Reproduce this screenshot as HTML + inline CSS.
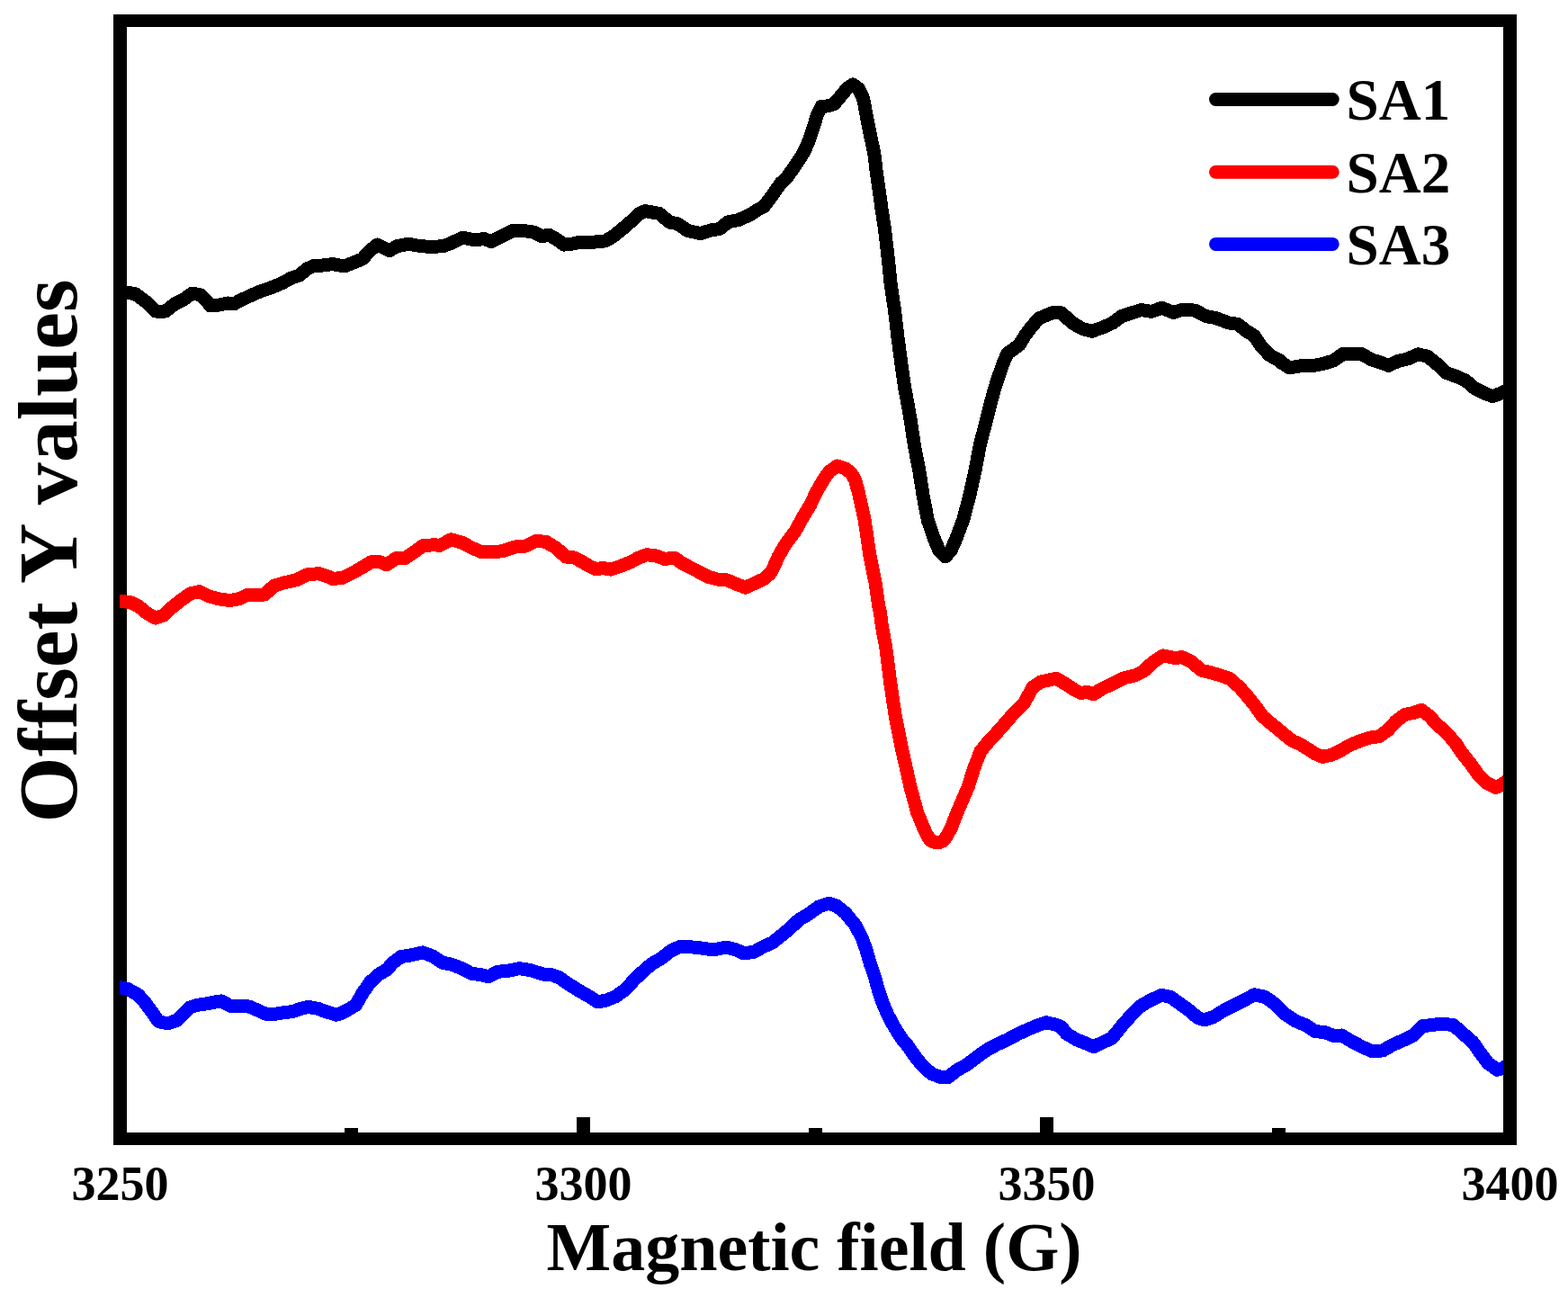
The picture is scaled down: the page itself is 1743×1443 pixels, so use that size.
<!DOCTYPE html>
<html><head><meta charset="utf-8"><title>Offset Y values vs Magnetic field</title>
<style>html,body{margin:0;padding:0;background:#fff;width:1743px;height:1443px;overflow:hidden}</style>
</head><body>
<svg width="1743" height="1443" viewBox="0 0 1743 1443" style="display:block">
<rect x="0" y="0" width="1743" height="1443" fill="#ffffff"/>
<g fill="#000000">
<rect x="126" y="16" width="15" height="1257"/>
<rect x="126" y="16" width="1560" height="14"/>
<rect x="126" y="1259" width="1560" height="14"/>
<rect x="641" y="1242" width="15" height="17"/>
<rect x="1156" y="1242" width="15" height="17"/>
<rect x="383" y="1254" width="15" height="5"/>
<rect x="899" y="1254" width="15" height="5"/>
<rect x="1414" y="1254" width="15" height="5"/>
</g>
<defs><clipPath id="pc"><rect x="133" y="0" width="1538" height="1443"/></clipPath></defs>
<g fill="none" stroke-width="15" stroke-linejoin="round" stroke-linecap="butt" clip-path="url(#pc)" shape-rendering="crispEdges">
<polyline stroke="#000000" points="126,325 133,325 141,325 151,327 163,336 173,346 184,346 194,338 204,333 214,326 223,328 230,335 234,340 244,339 253,337 260,338 267,334 280,328 289,324 301,320 313,315 324,309 333,306 341,299 350,295 359,295 367,294 370,293.6 382.9,296 392.9,292 402.9,287.9 411.4,278.6 419.3,272 427,275.7 432.9,278.6 441.4,273.7 454.3,271.1 462.9,272.9 478.6,274.6 492.9,273.6 501.4,270.3 514.3,264.3 527.1,266.6 538.6,265.7 546.4,268.6 555.7,263.6 570,256.4 581.4,256.4 592.9,258 602.9,262.9 610,261 618.6,266 627.1,272.1 638.6,270.7 644.3,269.1 658.6,269.3 672.9,267.9 681.4,262.9 692.9,253.6 702.9,245 710,237.9 717.1,234.6 724.3,235.9 732.9,237.4 744.3,247.1 752.9,248.6 764.3,256.4 778.6,259.6 790,256 800,254.5 809,247 821,244.5 834,238.6 843,232.8 849,229.9 858,217.9 868,203.5 875,197 883,185.5 891,173.7 896,164 900,154.3 904.3,141.4 908.6,127.1 912.9,118.6 920,117.9 927.1,115.7 934.3,107.1 941.4,98.6 948,94 954.3,98.6 958.6,107.1 960.3,112.9 962.9,127.1 967.1,148.6 971.7,170 974.3,191.4 977.4,212.9 980.3,234.3 983.6,255.7 987.4,288.6 990.3,317.1 994.6,345.7 997.9,374.3 1001.7,402.9 1005.7,431.4 1007.4,440 1012.3,467.7 1016.4,495.4 1021.8,523.2 1026.1,550.9 1031.4,578.6 1038.6,599.4 1044,612 1050.8,619 1057,612 1062.6,599.4 1070.5,578.6 1077.8,550.9 1084,523.2 1089.2,495.4 1096.3,467.7 1101.9,445.7 1105.8,431.4 1110.5,417.1 1115.5,402.9 1119.8,393 1125.7,388.9 1132.9,383.6 1140,372.1 1147.1,362.9 1154.3,354.3 1162.9,350.6 1171.4,347.2 1180,347.8 1191.4,358.6 1202.9,365.3 1213.6,368.3 1225.7,364 1237.1,358.9 1247.1,351.4 1257.1,348.1 1268.6,344.6 1280,346.4 1291.4,342.3 1304.3,347.4 1314.3,344.4 1328.6,345.1 1340,351.4 1351.4,353.6 1365.7,358.9 1375.7,360.3 1384.3,367.1 1394.3,373.6 1401.4,384.3 1411.4,395 1422.9,401 1425,403.6 1433.6,408.9 1446.4,406.7 1459.3,406.7 1472.1,404.1 1482.1,401 1493.6,393 1502.1,393 1513.6,393.7 1525,400 1536.4,403.6 1543.6,406.4 1553.6,401.7 1565,398.9 1576.4,393.9 1586.4,396 1596.4,403.9 1607.9,414.6 1619.3,418.6 1629.3,423.1 1639.3,431.7 1650.7,437.4 1659.3,440.7 1667.9,437.4 1678,432"/>
<polyline stroke="#ff0000" points="126,668.5 133,668.5 144.3,669.3 154.3,674.1 162.9,681.4 172.9,687.1 181.4,684.3 191.4,675 201.4,667.1 211.4,660 221.4,657.6 232.9,663.1 244.3,666 255.7,667.6 265.7,665.7 275.7,661.1 285.7,661.4 294.3,661 304.3,651.4 315.7,647.9 330,644.6 341.4,638.9 354.3,637.6 365.7,641.4 370,643.6 381.4,642.1 392.9,636.4 402.9,630.6 412.9,624.6 422.9,624.9 430,627.9 440,620.7 450,620.7 458.6,615 470,606.7 482.9,605.7 488.6,606.4 501.4,599.9 512.9,602.9 524.3,608.9 535.7,613.9 545.7,613.9 558.6,612.7 572.9,607.9 584.3,607.1 595.7,601.3 607.1,602.4 610,604.3 618.6,609.3 628.6,618.9 638.6,620 647.1,624.6 654.3,628.9 662.9,633 670,631.4 678.6,633.1 690,629.3 701.4,624.7 710,620 718.6,616.7 730,618.1 738.6,621.4 750,620.3 758.6,626.4 767.1,630.7 778.6,636.7 788.6,641.7 798.6,644.3 808.6,645 818.6,649.3 828.6,653.1 838.6,648.6 848.6,643.9 855.7,638 858.9,632.9 865.3,618.6 873.6,604.3 884.3,590 892.1,575.7 900.7,561.4 907.4,547.1 915.7,532.9 922,524 930.7,518 940,521 946,526 950.3,532.9 954.3,547.1 957.4,561.4 960.7,575.7 962.9,590 965,604.3 967.1,618.6 970,632.9 972.9,647.1 975,661.4 977.1,675.7 978.4,680 980.3,695.7 984.6,718.8 989.5,757.6 995.3,796.4 1003.1,835.2 1011.8,874 1019.6,903.1 1027,921 1030.5,928.5 1034.5,934.5 1039,936.3 1045,936.3 1049,934.5 1053,928.5 1057.5,920 1064,903.1 1076.5,874 1082.5,854.6 1090,835.2 1095.8,827.9 1111.3,811 1126.9,793 1138.5,781.3 1148.2,763.8 1157.1,758 1165.7,756 1174.3,754.3 1184.3,760.3 1192.9,766 1201.4,770.6 1208.6,769.3 1215.7,771.7 1224.3,766 1235.7,760.7 1250,753.6 1261.4,751 1271.4,746 1281.4,736.3 1292.9,728.9 1305.7,731.4 1314.3,730.7 1324.3,735.7 1335.7,745.3 1347.1,748.1 1357.1,750.9 1367.1,754.6 1378.3,764.5 1386.6,774.1 1395,784.5 1403.3,796.1 1411.6,803.2 1419.9,809.9 1428.2,816.9 1436.5,823.6 1444.8,827.1 1453.2,832.3 1461.5,837.7 1470,841.4 1480,839.3 1490,834.6 1500,828.6 1511.4,823.9 1522.9,820.1 1532.9,818.7 1542.9,811.7 1551.4,802.1 1561.4,794.6 1571.4,792.4 1580,789.3 1588.6,795.7 1597.1,805 1608.6,815.3 1618.6,827.1 1625.7,837.9 1634.3,848.6 1642.9,860.7 1651.4,869.6 1662.9,875.5 1670,872 1678,866"/>
<polyline stroke="#0000ff" points="126,1097.6 133,1097.6 142.1,1099.6 153.6,1106 162.1,1115.7 169.3,1125.7 176.4,1135.7 186.4,1137.9 196.4,1134.3 203.6,1127.1 210.7,1120 219.3,1117.3 230.7,1115.7 239.3,1113.9 246.4,1112.9 256.4,1118.6 266.4,1118.1 276.4,1118.9 286.4,1123.1 296.4,1127.6 305,1127.4 315,1125.7 325,1124.6 333.6,1121.7 342.1,1119.3 353.6,1121.4 362.1,1124.6 373.6,1128.1 378.6,1126.7 387.1,1122.4 395.7,1117.1 402.9,1104.3 411.4,1092.1 420,1083.9 430,1077.9 437.1,1070 445.7,1063.6 455.7,1062.1 470,1058.9 481.4,1063.1 491.4,1070.1 501.4,1072 512.9,1076.4 524.3,1082.4 534.3,1083.6 542.9,1085.9 552.9,1080.3 564.3,1079.4 577.1,1076.7 588.6,1078.4 598.6,1081.4 605.7,1083.6 612.9,1083.6 621.4,1086.7 632.9,1094.6 644.3,1101.7 655.7,1108.1 664.3,1113.9 674.3,1111.9 684.3,1107.9 695.7,1099.6 704.3,1090 714.3,1080.3 724.3,1071.7 735.7,1065 745.7,1057.1 755.7,1052.4 767.1,1052.7 778.6,1053.9 792.9,1055.9 807.1,1053.1 818.6,1056 827.1,1060 838.6,1058.1 847.1,1053.1 858.6,1047.9 868.6,1040 878.6,1031.7 888.6,1022.1 898.6,1016.4 910,1008.1 921.4,1004.3 930,1007.1 940,1015.3 950.3,1027.9 957.9,1042.1 963.1,1056.4 967.1,1070.7 972.1,1085 976,1099.3 980.7,1113.6 986.7,1127.9 994.3,1142.1 1003.6,1156.4 1008.6,1162.1 1017.1,1174.3 1025.7,1185 1035.7,1193.9 1045.7,1197.4 1054.3,1197.4 1062.9,1190.3 1074.3,1183.9 1085.7,1175.3 1097.1,1167.1 1108.6,1161 1120,1155.7 1131.4,1149.6 1142.9,1144.3 1154.3,1139.6 1162.9,1136.7 1174.3,1139.3 1180,1142.1 1185.7,1149.3 1197.1,1156 1207.1,1160 1215.7,1163.6 1225.7,1158.9 1235.7,1154.3 1240,1149.3 1248.6,1138.6 1258.6,1127.4 1268.6,1117.9 1280,1111.4 1291.4,1106.3 1301.4,1108.6 1311.4,1115.7 1321.4,1122.9 1331.4,1131.4 1338.6,1133.9 1348.6,1130.7 1360,1123.6 1371.4,1117.9 1382.9,1112.1 1394.3,1105.9 1405.7,1108.1 1417.1,1116 1428.6,1127.4 1440,1135 1451.4,1139.6 1461.4,1146.4 1472.9,1147.7 1482.9,1151.7 1491.4,1151 1502.9,1157.9 1514.3,1163.9 1525.7,1168.9 1537.1,1167.9 1548.6,1161.4 1561.4,1155.7 1571.4,1151 1581.4,1140.6 1591.4,1139.6 1602.9,1138.1 1615.7,1139.6 1625.7,1148.6 1637.1,1158.6 1645.7,1170.7 1654.3,1182.1 1664.3,1189.3 1671,1187.4 1678,1183"/>
</g>
<rect x="1671" y="16" width="15" height="1257" fill="#000000"/>
<g font-family='"Liberation Serif", "Times New Roman", serif' font-weight="bold" fill="#000000">
<text x="133.5" y="1334" text-anchor="middle" font-size="54">3250</text>
<text x="648.5" y="1334" text-anchor="middle" font-size="54">3300</text>
<text x="1163.5" y="1334" text-anchor="middle" font-size="54">3350</text>
<text x="1678.5" y="1334" text-anchor="middle" font-size="54">3400</text>
<text x="905" y="1411.6" text-anchor="middle" font-size="76">Magnetic field (G)</text>
<text transform="translate(85,612.5) rotate(-90)" x="0" y="0" text-anchor="middle" font-size="94">Offset Y values</text>
<line x1="1351.5" y1="110.5" x2="1481.2" y2="110.5" stroke="#000000" stroke-width="15" stroke-linecap="round"/>
<text x="1496.6" y="133" font-size="65">SA1</text>
<line x1="1351.5" y1="191.3" x2="1481.2" y2="191.3" stroke="#ff0000" stroke-width="15" stroke-linecap="round"/>
<text x="1496.6" y="213.5" font-size="65">SA2</text>
<line x1="1351.5" y1="271.4" x2="1481.2" y2="271.4" stroke="#0000ff" stroke-width="15" stroke-linecap="round"/>
<text x="1496.6" y="294" font-size="65">SA3</text>
</g>
</svg>
</body></html>
